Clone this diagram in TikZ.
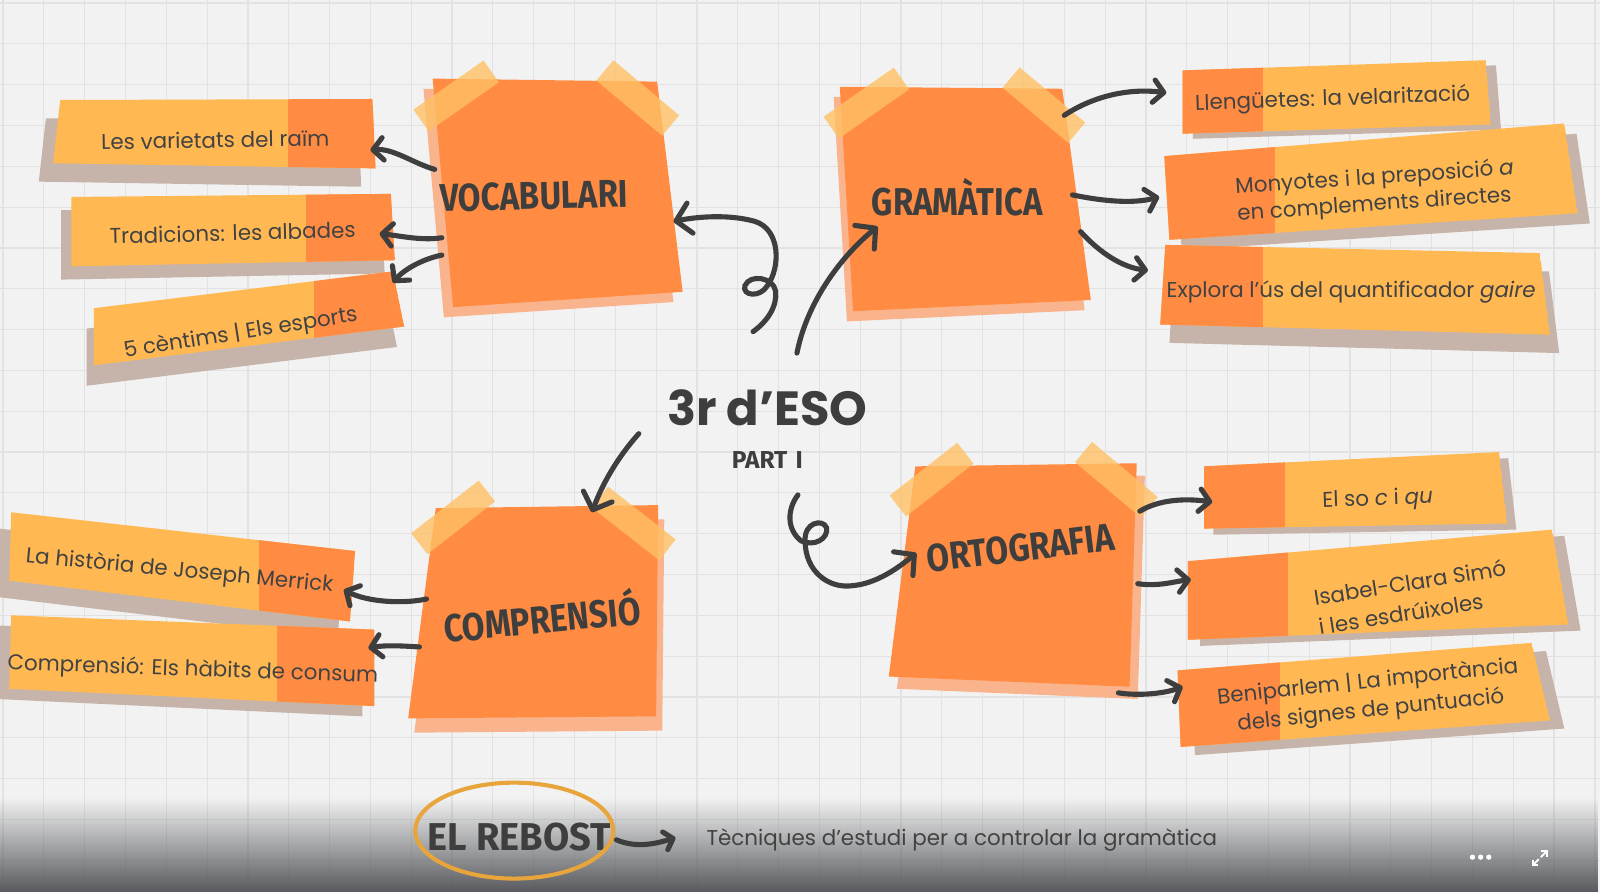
\documentclass[tikz,border=0pt]{standalone}
\usepackage{fontspec}
\usepackage{graphicx}
\setmainfont{Poppins}
\newfontfamily\handfont{Fira Sans}
\usetikzlibrary{arrows.meta,fadings}

\definecolor{paper}{RGB}{242,242,242}
\definecolor{gridgrey}{RGB}{226,226,226}
\definecolor{noteorange}{RGB}{255,140,66}
\definecolor{noteshade}{RGB}{249,180,142}
\definecolor{tapeorange}{RGB}{255,192,100}
\definecolor{ribbonlight}{RGB}{255,184,82}
\definecolor{ribbonshade}{RGB}{198,180,170}
\definecolor{ink}{RGB}{62,62,62}
\definecolor{labelink}{RGB}{66,66,66}
\definecolor{rebostring}{RGB}{232,165,60}
\definecolor{footergrey}{RGB}{88,90,94}

\tikzfading[name=footerfade, top color=transparent!100, bottom color=transparent!0]

\newcommand{\narrowtext}[2][0.85]{\scalebox{#1}[1]{#2}}

% nota enganxada: cantonades i ombra
\newcommand{\stickynote}[5]{%
  \fill[noteshade,shift={#5}] #1 -- #2 -- #3 -- #4 -- cycle;
  \fill[noteorange] #1 -- #2 -- #3 -- #4 -- cycle;}

% cinta adhesiva
\newcommand{\tape}[2]{%
  \fill[tapeorange,opacity=.8,shift={#1},rotate=#2] (-42,-13) rectangle (42,13);}

% cinta de text: cantonades, tros fosc, ombra
\newcommand{\ribbon}[6]{%
  \fill[ribbonshade,shift={#6}] #1 -- #2 -- #3 -- #4 -- cycle;
  \begin{scope}
    \clip #1 -- #2 -- #3 -- #4 -- cycle;
    \fill[ribbonlight] #1 -- #2 -- #3 -- #4 -- cycle;
    \fill[noteorange] #5;
  \end{scope}}

\begin{document}
\begin{tikzpicture}[x=0.5pt,y=-0.5pt,
    gridline/.style={gridgrey,line width=0.6pt},
    notetitle/.style={text=ink,font=\handfont\bfseries\fontsize{19}{19}\selectfont,inner sep=0pt},
    labeltext/.style={text=labelink,font=\fontsize{10.5}{13}\selectfont,align=center,inner sep=0pt},
    link/.style={ink,line width=2.5pt,line cap=round,-{Straight Barb[round,length=5pt,width=11pt]}},
    biglink/.style={link,-{Straight Barb[round,length=7pt,width=15pt]}}]

    % Paper
    \useasboundingbox (0,0) rectangle (1568,874);
    \clip (0,0) rectangle (1568,874);
    \fill[paper] (0,0) rectangle (1568,874);
    \foreach \gx in {3,43,...,1563} {
        \draw[gridline] (\gx,0) -- (\gx,874);
    }
    \foreach \gy in {3,43,...,873} {
        \draw[gridline] (0,\gy) -- (1568,\gy);
    }

    % Vocabulari
    \ribbon{(59,98)}{(365,97)}{(368,165)}{(52,160)}{(282,0) rectangle (420,220)}{(-14,18)}
    \ribbon{(70,193)}{(383,190)}{(387,255)}{(70,261)}{(300,150) rectangle (420,300)}{(-10,13)}
    \ribbon{(92,302)}{(385,266)}{(396,320)}{(92,358)}{(308,200) rectangle (420,400)}{(-7,20)}
    \stickynote{(424,77)}{(644,80)}{(669,286)}{(444,301)}{(-9,10)}
    \tape{(447,94)}{35}
    \tape{(625,96)}{-40}
    \node[notetitle,rotate=1.5] (voc) at (523,192) {\narrowtext{VOCABULARI}};
    \node[labeltext,rotate=1] (voc1) at (211,137) {Les varietats del raïm};
    \node[labeltext,rotate=1.5] (voc2) at (228,228) {Tradicions: les albades};
    \node[labeltext,rotate=9] (voc3) at (236,327) {5 cèntims | Els esports};

    % Gramàtica
    \ribbon{(1159,69)}{(1456,59)}{(1461,122)}{(1159,131)}{(1100,0) rectangle (1238,200)}{(10,5)}
    \ribbon{(1141,153)}{(1533,121)}{(1546,209)}{(1146,235)}{(1100,100) rectangle (1249,260)}{(12,10)}
    \ribbon{(1142,240)}{(1509,248)}{(1519,328)}{(1137,318)}{(1100,220) rectangle (1238,350)}{(9,18)}
    \stickynote{(823,85)}{(1041,87)}{(1069,294)}{(836,305)}{(-6,10)}
    \tape{(849,101)}{35}
    \tape{(1023,103)}{-40}
    \node[notetitle] (gra) at (938,193) {\narrowtext{GRAMÀTICA}};
    \node[labeltext,rotate=2] (gra1) at (1306,98) {Llengüetes: la velarització};
    \node[labeltext,align=left,rotate=4] (gra2) at (1348,188) {Monyotes i la preposició \textit{a}\\en complements directes};
    \node[labeltext] (gra3) at (1324,286) {Explora l'ús del quantificador \textit{gaire}};

    % Comprensió
    \ribbon{(11,502)}{(348,540)}{(343,609)}{(9,569)}{(254,450) rectangle (400,650)}{(-12,16)}
    \ribbon{(11,603)}{(367,617)}{(367,692)}{(9,675)}{(271,580) rectangle (400,720)}{(-12,10)}
    \stickynote{(427,498)}{(645,495)}{(643,702)}{(400,704)}{(6,14)}
    \tape{(444,507)}{38}
    \tape{(621,513)}{-38}
    \node[notetitle,rotate=5.5] (com) at (531,603) {\narrowtext{COMPRENSIÓ}};
    \node[labeltext,rotate=-5.5] (com1) at (176,560) {La història de Joseph Merrick};
    \node[labeltext,rotate=-2] (com2) at (189,657) {Comprensió: Els hàbits de consum};

    % Ortografia
    \ribbon{(1180,457)}{(1469,443)}{(1477,513)}{(1180,518)}{(1150,420) rectangle (1259,540)}{(9,6)}
    \ribbon{(1164,550)}{(1521,519)}{(1537,612)}{(1164,627)}{(1150,500) rectangle (1262,650)}{(12,6)}
    \ribbon{(1154,657)}{(1501,630)}{(1519,706)}{(1157,732)}{(1140,600) rectangle (1254,750)}{(14,8)}
    \stickynote{(897,457)}{(1114,454)}{(1107,673)}{(871,663)}{(8,12)}
    \tape{(913,470)}{38}
    \tape{(1094,470)}{-40}
    \node[notetitle,rotate=7] (ort) at (1000,537) {\narrowtext{ORTOGRAFIA}};
    \node[labeltext,rotate=2] (ort1) at (1350,490) {El so \textit{c} i \textit{qu}};
    \node[labeltext,align=left,rotate=9,font=\fontsize{10.5}{14.5}\selectfont] (ort2) at (1384,585) {Isabel-Clara Simó\\i les esdrúixoles};
    \node[labeltext,rotate=6,font=\fontsize{10.5}{14}\selectfont] (ort3) at (1342,683) {Beniparlem | La importància\\dels signes de puntuació};

    % Títol central
    \node[text=ink,font=\bfseries\fontsize{23.5}{24}\selectfont,inner sep=0pt] (centre) at (752,400) {3r d’ESO};
    \node[notetitle,font=\handfont\bfseries\fontsize{12}{12}\selectfont] (part) at (752,451) {PART\,\,I};

    % Punts de les fletxes
    \coordinate (voc-o1) at (426,166);  \coordinate (voc-i1) at (363,147);
    \coordinate (voc-o2) at (433,233);  \coordinate (voc-i2) at (372,229);
    \coordinate (voc-o3) at (433,250);  \coordinate (voc-i3) at (385,277);
    \coordinate (gra-o1) at (1043,113); \coordinate (gra-i1) at (1143,91);
    \coordinate (gra-o2) at (1051,191); \coordinate (gra-i2) at (1136,193);
    \coordinate (gra-o3) at (1059,227); \coordinate (gra-i3) at (1125,265);
    \coordinate (com-o1) at (418,587);  \coordinate (com-i1) at (337,578);
    \coordinate (com-o2) at (411,634);  \coordinate (com-i2) at (361,635);
    \coordinate (ort-o1) at (1117,501); \coordinate (ort-i1) at (1188,492);
    \coordinate (ort-o2) at (1115,572); \coordinate (ort-i2) at (1167,568);
    \coordinate (ort-o3) at (1096,679); \coordinate (ort-i3) at (1159,673);
    \coordinate (cen-voc) at (738,325); \coordinate (voc-in) at (660,217);
    \coordinate (cen-gra) at (781,346); \coordinate (gra-in) at (860,222);
    \coordinate (cen-com) at (626,425); \coordinate (com-in) at (580,502);
    \coordinate (cen-ort) at (782,485); \coordinate (ort-in) at (898,542);

    % Fletxes de les notes
    \draw[link] (voc-o1) .. controls (405,160) and (385,145) .. (voc-i1);
    \draw[link] (voc-o2) .. controls (412,236) and (392,231) .. (voc-i2);
    \draw[link] (voc-o3) .. controls (413,254) and (395,265) .. (voc-i3);
    \draw[link] (gra-o1) .. controls (1070,95) and (1105,86) .. (gra-i1);
    \draw[link] (gra-o2) .. controls (1080,197) and (1110,200) .. (gra-i2);
    \draw[link] (gra-o3) .. controls (1078,248) and (1100,262) .. (gra-i3);
    \draw[link] (com-o1) .. controls (395,592) and (360,590) .. (com-i1);
    \draw[link] (com-o2) .. controls (395,633) and (378,632) .. (com-i2);
    \draw[link] (ort-o1) .. controls (1135,490) and (1160,488) .. (ort-i1);
    \draw[link] (ort-o2) .. controls (1135,575) and (1150,570) .. (ort-i2);
    \draw[link] (ort-o3) .. controls (1115,682) and (1140,680) .. (ort-i3);

    % Fletxes del centre
    \draw[biglink] (cen-voc) .. controls (752,315) and (762,300) .. (760,285)
        .. controls (758,272) and (735,268) .. (730,280)
        .. controls (727,290) and (745,292) .. (752,280)
        .. controls (765,262) and (765,225) .. (740,217)
        .. controls (715,210) and (685,212) .. (voc-in);
    \draw[biglink] (cen-gra) .. controls (790,300) and (820,255) .. (gra-in);
    \draw[biglink] (cen-com) .. controls (608,445) and (592,470) .. (com-in);
    \draw[biglink] (cen-ort) .. controls (772,498) and (770,518) .. (785,530)
        .. controls (798,536) and (812,528) .. (810,517)
        .. controls (806,508) and (788,512) .. (789,530)
        .. controls (789,560) and (812,577) .. (835,574)
        .. controls (860,572) and (882,555) .. (ort-in);

    % Peu
    \fill[footergrey,path fading=footerfade] (0,782) rectangle (1568,874);
    \node[notetitle,font=\handfont\bfseries\fontsize{19}{19}\selectfont] (rebost) at (509,820) {\narrowtext[0.98]{EL REBOST}};
    \draw[rebostring,line width=2pt,line cap=round] (483.8,768) arc[start angle=258,end angle=640,x radius=97,y radius=47];
    \node[text=labelink,font=\fontsize{10.5}{12}\selectfont,anchor=west,inner sep=0pt] (tecniques) at (692,823) {Tècniques d’estudi per a controlar la gramàtica};
    \coordinate (rebost-o) at (604,823); \coordinate (tecniques-i) at (662,821);
    \draw[link,-{Straight Barb[round,length=4pt,width=9pt]}] (rebost-o) .. controls (625,832) and (645,826) .. (tecniques-i);

    % Icones
    \foreach \dx in {1443,1451,1459} {
        \fill[white] (\dx,840) circle (2.6);
    }
    \draw[white,line width=1pt,-{Straight Barb[length=2pt,width=4pt]}] (1510,840) -- (1517,833);
    \draw[white,line width=1pt,-{Straight Barb[length=2pt,width=4pt]}] (1508,842) -- (1501,849);
\end{tikzpicture}
\end{document}
